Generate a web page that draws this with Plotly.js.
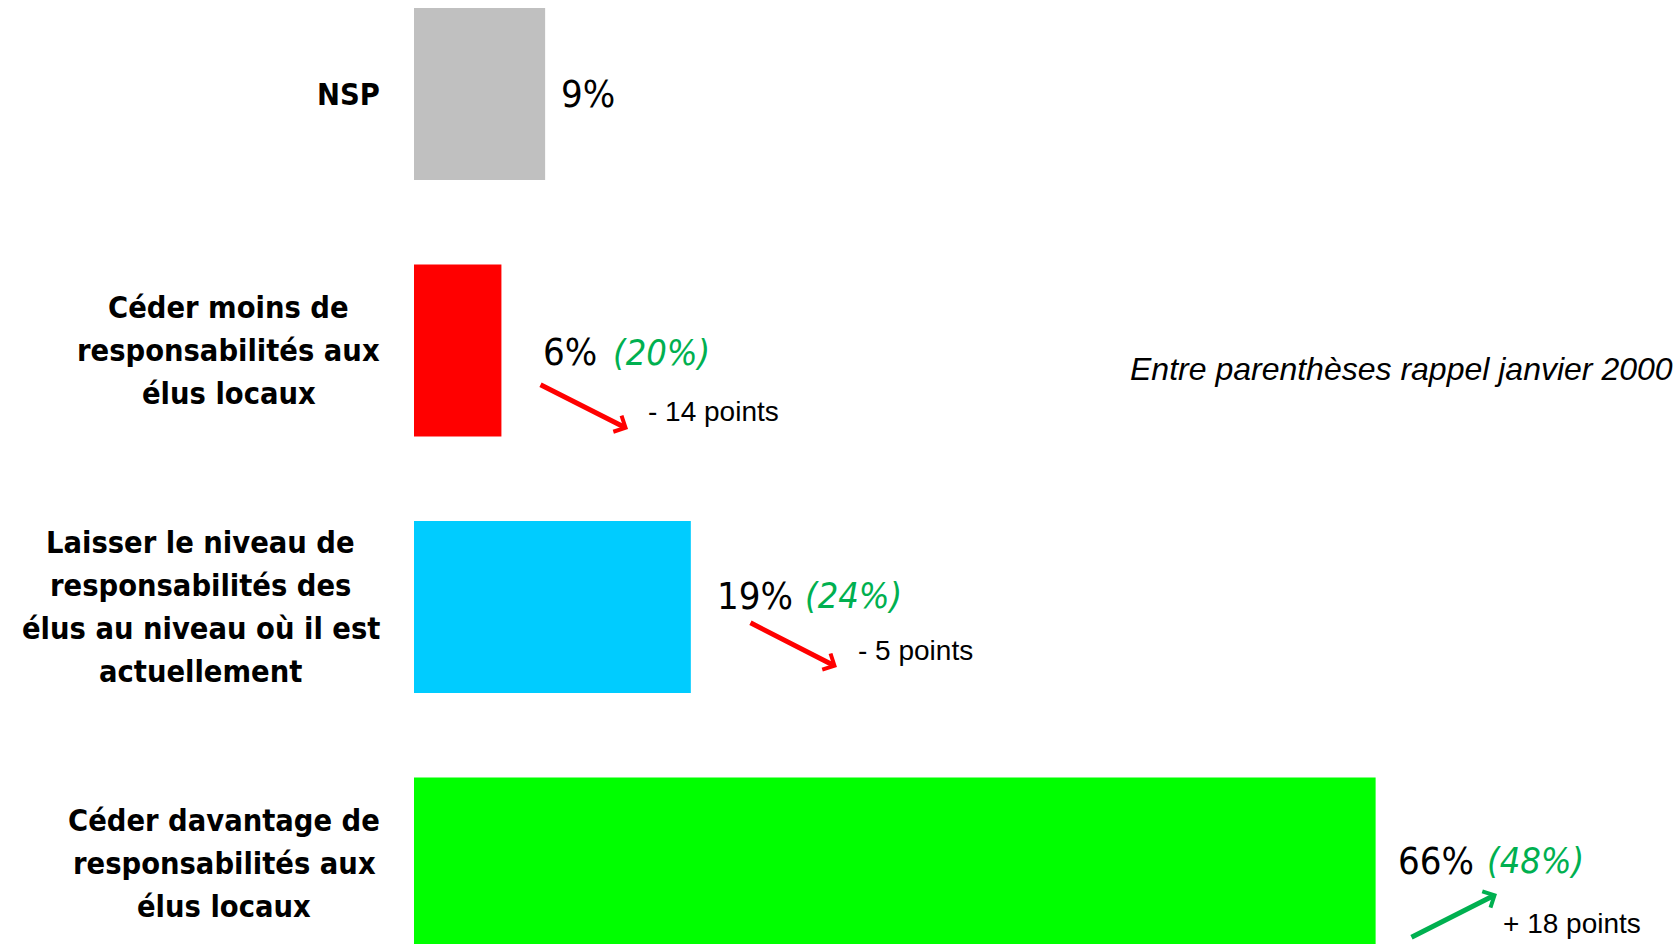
<!DOCTYPE html>
<html>
<head>
<meta charset="utf-8">
<script src="https://cdn.plot.ly/plotly-3.0.1.min.js"></script>
<style>html,body{margin:0;padding:0;background:#fff;}#chart{width:1677px;height:944px;}</style>
</head>
<body>
<div id="chart"></div>
<script>
// ---- data (bottom to top) ----
const categories = [
  "Céder davantage de<br>responsabilités aux<br>élus locaux",
  "Laisser le niveau de<br>responsabilités des<br>élus au niveau où il est<br>actuellement",
  "Céder moins de<br>responsabilités aux<br>élus locaux",
  "NSP"
];
const values = [66, 19, 6, 9];
const previousValues = [48, 24, 20, null];   // rappel janvier 2000
const changes = [18, -5, -14, null];          // points
const barColors = ["#00FF00", "#00CCFF", "#FF0000", "#C0C0C0"];
const noteText = "Entre parenthèses rappel janvier 2000";

// ---- layout helpers (positions, not data) ----
const PX_PER_PCT = 14.57, X0 = 414;           // pixel scale of the x axis
const PX_PER_CAT = 256.5;
const valueGap = [1.38, 1.64, 2.7, 0.94];     // % units after bar end
const valueDy  = [0.01, 0.043, -0.006, 0.0];
const prevDx   = [6.1, 6.05, 4.8];            // from value label start
const ptsDx    = [7.22, 9.67, 7.21];
const ptsDy    = [-0.243, -0.211, -0.232];
const arrowDx  = [6.95, 8.39, 5.99];
const arrowDy  = [-0.129, -0.277, -0.30];
const arrowOff = [[-87, 44], [-88, -45], [-89, -45]];
const labelRightPx = 380, labelLineGap = 43;

const numFont = "DejaVu Sans Condensed, DejaVu Sans, sans-serif";
const labelFontSize = 30.5;

const trace = {
  type: "bar",
  orientation: "h",
  y: categories,
  x: values,
  width: 0.67,
  marker: { color: barColors },
  hoverinfo: "skip"
};

const ctx = document.createElement("canvas").getContext("2d");
ctx.font = "bold " + labelFontSize + "px 'DejaVu Sans Condensed', 'DejaVu Sans', sans-serif";

const annotations = [];
categories.forEach((c, i) => {
  const lines = c.split("<br>");
  const maxW = Math.max(...lines.map(l => ctx.measureText(l).width));
  const cx = (labelRightPx - maxW / 2 - X0) / PX_PER_PCT;
  lines.forEach((l, k) => {
    const off = (k - (lines.length - 1) / 2) * labelLineGap / PX_PER_CAT;
    annotations.push({
      x: cx, y: i - off, xref: "x", yref: "y", text: l, showarrow: false,
      xanchor: "center", yanchor: "middle",
      font: { family: numFont, size: labelFontSize, color: "#000", weight: "bold" }
    });
  });
  const vx = values[i] + valueGap[i];
  const vy = i + valueDy[i];
  annotations.push({
    x: vx, y: vy, xref: "x", yref: "y", text: values[i] + "%", showarrow: false,
    xanchor: "left", yanchor: "middle",
    font: { family: numFont, size: 38, color: "#000" }
  });
  if (previousValues[i] !== null) {
    annotations.push({
      x: vx + prevDx[i], y: vy, xref: "x", yref: "y", text: "<i>(" + previousValues[i] + "%)</i>",
      showarrow: false, xanchor: "left", yanchor: "middle",
      font: { family: numFont, size: 36, color: "#00B050" }
    });
    const up = changes[i] > 0;
    annotations.push({
      x: vx + ptsDx[i], y: vy + ptsDy[i], xref: "x", yref: "y",
      text: (up ? "+ " : "- ") + Math.abs(changes[i]) + " points",
      showarrow: false, xanchor: "left", yanchor: "middle",
      font: { family: "Liberation Sans, Arial, sans-serif", size: 28, color: "#000" }
    });
    annotations.push({
      x: vx + arrowDx[i], y: vy + arrowDy[i], xref: "x", yref: "y", text: "",
      showarrow: true, ax: arrowOff[i][0], ay: arrowOff[i][1],
      arrowcolor: up ? "#00B050" : "#FF0000", arrowwidth: 5, arrowhead: 4, arrowsize: 0.7,
      standoff: 0
    });
  }
});
annotations.push({
  x: 48.98, y: 1.928, xref: "x", yref: "y", text: "<i>" + noteText + "</i>",
  showarrow: false, xanchor: "left", yanchor: "middle",
  font: { family: "Liberation Sans, Arial, sans-serif", size: 32, color: "#000" }
});

const layout = {
  width: 1677, height: 944,
  margin: { l: 0, r: 0, t: 0, b: 0, pad: 0 },
  paper_bgcolor: "#fff", plot_bgcolor: "#fff",
  showlegend: false,
  xaxis: { range: [-X0 / PX_PER_PCT, (1677 - X0) / PX_PER_PCT], showgrid: false, zeroline: false, showticklabels: false, showline: false, fixedrange: true },
  yaxis: { type: "category", categoryorder: "array", categoryarray: categories,
           range: [-0.3138, 3.3665], showgrid: false, zeroline: false, showticklabels: false, showline: false, fixedrange: true },
  annotations: annotations
};

Plotly.newPlot("chart", [trace], layout, { displayModeBar: false, staticPlot: true });
</script>
</body>
</html>
